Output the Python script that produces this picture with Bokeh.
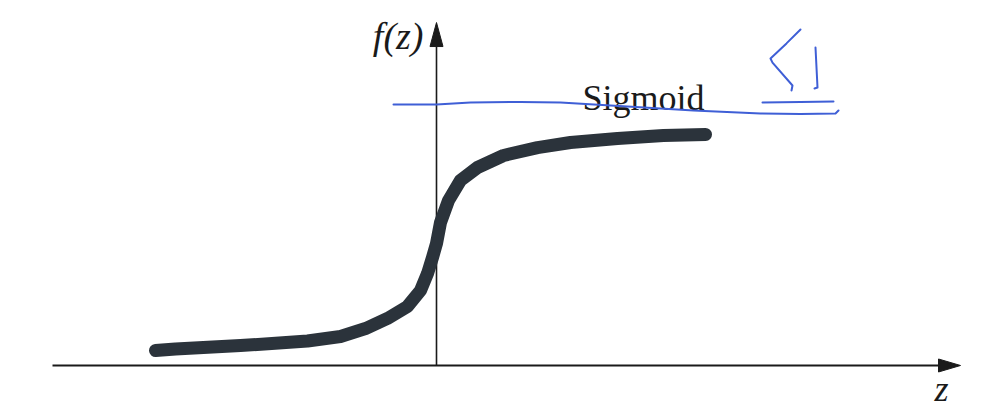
from bokeh.plotting import figure
from bokeh.models import Range1d
from bokeh.embed import file_html
from bokeh.resources import INLINE
from bokeh.core.properties import value

# ---- data (z in arbitrary units, f(z) in 0..1 units) ----
z_pts = [-5.62, -5.22, -3.92, -2.58, -1.92, -1.42, -0.98, -0.58, -0.32, -0.18,
         -0.08, 0.0, 0.08, 0.24, 0.48, 0.82, 1.34, 2.02, 2.68, 3.62, 4.54, 5.38]
f_pts = [0.0625, 0.069, 0.083, 0.102, 0.121, 0.154, 0.196, 0.246, 0.3125, 0.383,
         0.45, 0.508, 0.596, 0.6875, 0.771, 0.825, 0.875, 0.908, 0.929, 0.946,
         0.958, 0.9625]

# hand-drawn blue annotations
ink_line_z = [-0.86, 0.0, 0.68, 1.68, 2.48, 3.82, 5.14, 6.48, 7.28, 7.98, 8.04]
ink_line_f = [1.0875, 1.0875, 1.0958, 1.098, 1.0958, 1.079, 1.0625, 1.05, 1.048, 1.05, 1.0625]
ink_short_z = [6.52, 7.28, 7.94]
ink_short_f = [1.0958, 1.098, 1.10]
ink_lt_z = [7.28, 7.0, 6.68, 6.72, 7.12, 7.10]
ink_lt_f = [1.40, 1.342, 1.279, 1.262, 1.1667, 1.146]
ink_one_z = [7.58, 7.62, 7.56]
ink_one_f = [1.325, 1.158, 1.154]

# axis extents
z_axis_start, z_axis_end = -7.68, 10.48
f_axis_end = 1.429

labels = {"y": "f(z)", "x": "z", "curve": "Sigmoid"}

PXZ = 50.0   # pixels per z unit
PXF = 240.0  # pixels per f unit

p = figure(width=978, height=410, output_backend="svg", toolbar_location=None,
           x_range=Range1d(-8.72, 10.84), y_range=Range1d(-0.1875, 1.5208),
           x_axis_location=None, y_axis_location=None, min_border=0)
p.grid.visible = False
p.outline_line_color = None
p.background_fill_color = "white"
p.border_fill_color = "white"

axis_color = "#1a1a1a"
# horizontal axis
hl = 22 / PXZ
hw = 6.5 / PXF
p.line([z_axis_start, z_axis_end - hl], [0, 0], line_color=axis_color, line_width=2.2)
p.patch([z_axis_end, z_axis_end - hl, z_axis_end - hl],
        [0, hw, -hw], fill_color=axis_color, line_color=axis_color)
# vertical axis
vl = 24 / PXF
vw = 6.5 / PXZ
p.line([0, 0], [0, f_axis_end - vl], line_color=axis_color, line_width=1.6)
p.patch([0, -vw, vw], [f_axis_end, f_axis_end - vl, f_axis_end - vl],
        fill_color=axis_color, line_color=axis_color)

# sigmoid curve
p.line(z_pts, f_pts, line_color="#2b333b", line_width=13,
       line_cap="round", line_join="round")

# labels
p.text(x=[-0.26], y=[1.371], text=[labels["y"]], text_font=value("Liberation Serif"),
       text_font_style="italic", text_font_size="38px", text_align="right",
       text_baseline="middle", text_color="#1a1a1a")
p.text(x=[10.1], y=[-0.1], text=[labels["x"]], text_font=value("Liberation Serif"),
       text_font_style="italic", text_font_size="36px", text_align="center",
       text_baseline="alphabetic", text_color="#1a1a1a")
p.text(x=[2.92], y=[1.1125], text=[labels["curve"]], text_font=value("Liberation Serif"),
       text_font_size="36px", text_align="left", text_baseline="alphabetic",
       text_color="#1a1a1a")

# blue ink
ink = "#3f5fd6"
for zs, fs in [(ink_line_z, ink_line_f), (ink_short_z, ink_short_f),
               (ink_lt_z, ink_lt_f), (ink_one_z, ink_one_f)]:
    p.line(zs, fs, line_color=ink, line_width=2, line_cap="round", line_join="round")

open("out.html", "w").write(file_html(p, INLINE))
